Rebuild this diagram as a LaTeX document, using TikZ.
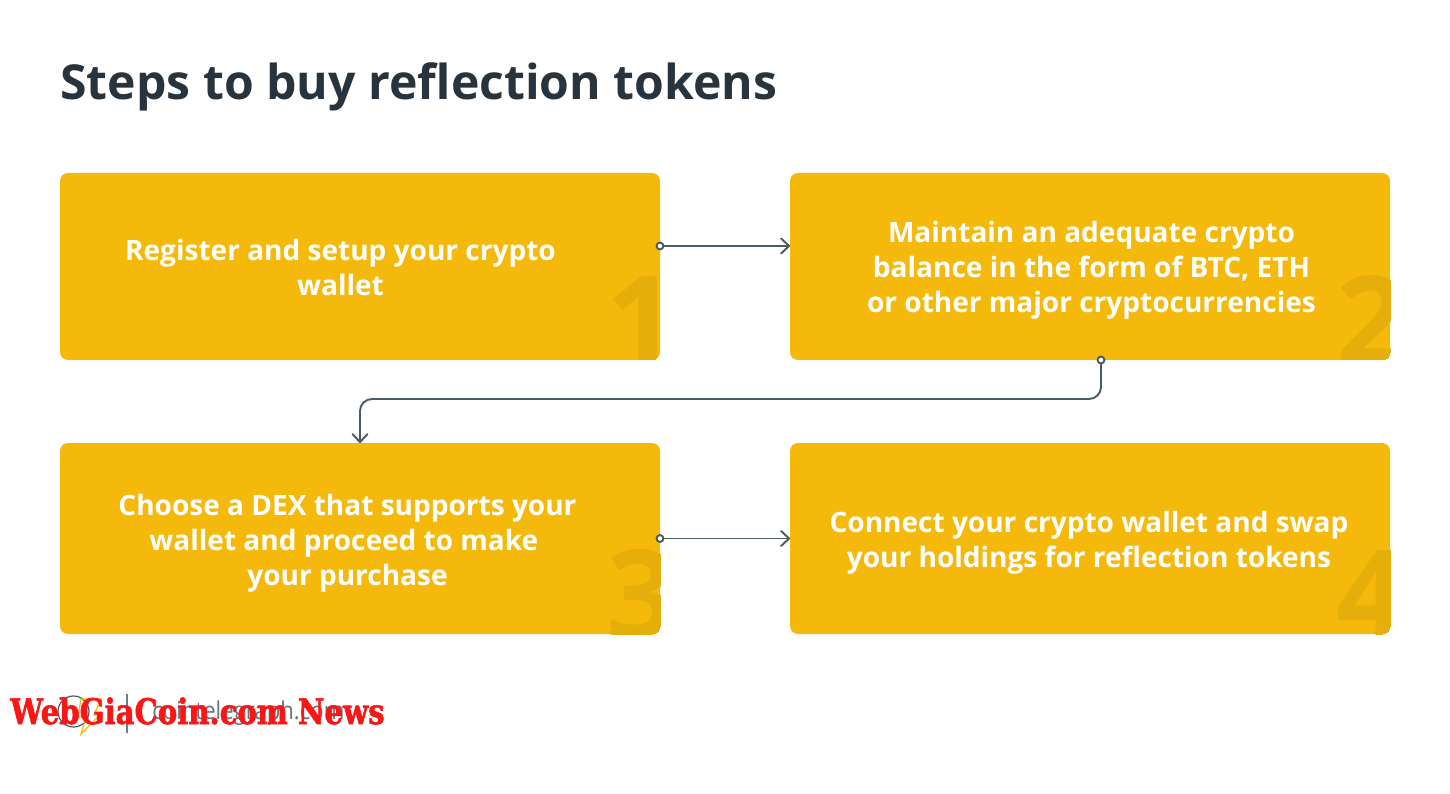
\documentclass[tikz,border=0pt]{standalone}
\usepackage{fontspec}
\setmainfont{Open Sans}
\newfontfamily\markfont[FakeStretch=0.83,FakeBold=1.6]{DejaVu Serif}
\newfontfamily\sitefont[FakeStretch=0.9]{Open Sans}
\usetikzlibrary{arrows.meta}
\definecolor{boxyellow}{HTML}{F5B90B}
\definecolor{digityellow}{HTML}{E5AE0A}
\definecolor{slateline}{HTML}{4A5B68}
\definecolor{titleink}{HTML}{28343D}
\definecolor{stampred}{HTML}{FB1515}
\tikzset{
  stepbox/.style={rectangle,rounded corners=0.16cm,fill=boxyellow,minimum width=12cm,inner sep=0pt,outer sep=0pt},
  digit/.style={inner sep=0pt,anchor=base west,xshift=-1.08cm,yshift=-0.09cm,text=digityellow,font=\fontsize{70}{70}\selectfont\bfseries},
  steptext/.style={align=center,text=white,font=\fontsize{15.95}{19.9}\selectfont\bfseries},
  startdot/.style={{Circle[open,fill=white,length=5pt,width=5pt]}->,slateline,shorten <=-2.5pt},
}
\begin{document}
\begin{tikzpicture}
    \useasboundingbox (0,0) rectangle (29,-15.88);

    \node[anchor=west,inner sep=0pt,text=titleink,font=\fontsize{27.4}{34}\selectfont\bfseries] (title) at (1.2,-1.74) {Steps to buy reflection tokens};

    \begin{scope}[every node/.style={stepbox}]
      \node[minimum height=3.74cm] (s1) at (7.2,-5.33) {};
      \node[minimum height=3.74cm] (s2) at (21.8,-5.33) {};
      \node[minimum height=3.82cm] (s3) at (7.2,-10.77) {};
      \node[minimum height=3.82cm] (s4) at (21.8,-10.77) {};
    \end{scope}

    % big numbers, cut off by the box they sit in
    \foreach \n in {1,2,3,4} {
      \begin{scope}
        \clip[rounded corners=0.16cm] (s\n.south west) rectangle (s\n.north east);
        \node[digit] (d\n) at (s\n.south east) {\n};
      \end{scope}
    }

    \node[steptext] (t1) at (6.81,-5.35) {Register and setup your crypto\\wallet};
    \node[steptext] (t2) at (21.83,-5.41) {Maintain an adequate crypto\\balance in the form of BTC, ETH\\or other major cryptocurrencies};
    \node[steptext] (t3) at (6.95,-10.86) {Choose a DEX that supports your\\wallet and proceed to make~\mbox{}\\your purchase};
    \node[steptext] (t4) at (21.78,-10.85) {Connect your crypto wallet and swap\\your holdings for reflection tokens};

    \coordinate (s2out) at (22.02,-7.2);
    \coordinate (elbow) at (22.02,-7.98);

    \begin{scope}[line width=1.1pt,
        >={Straight Barb[length=4.5pt,width=8.5pt,line width=1.1pt,round]}]
      \draw[startdot] (s1.east |- 0,-4.92) -- (s2.west |- 0,-4.92);
      \draw[startdot] (s3.east |- 0,-10.77) -- (s4.west |- 0,-10.77);
      \draw[startdot,rounded corners=0.24cm] (s2out) -- (elbow) -- (elbow -| s3.north) -- (s3.north);
    \end{scope}

    % logo row
    \node[circle,draw=slateline,line width=0.7pt,minimum size=0.62cm,inner sep=0pt] (logo) at (1.47,-14.23) {};
    \draw[draw=boxyellow,line width=0.7pt] (1.62,-13.98) -- (2.02,-13.98) -- (1.88,-14.3) -- (2.0,-14.3) -- (1.62,-14.68) -- (1.72,-14.34) -- (1.56,-14.34) -- cycle;
    \node[fill=slateline!80,minimum width=0.04cm,minimum height=0.78cm,inner sep=0pt] (rule) at (2.54,-14.27) {};
    \node[anchor=west,inner sep=0pt,text=slateline!85,font=\sitefont\fontsize{14}{16}\selectfont] (site) at (3.04,-14.27) {cointelegraph.com};
    \node[anchor=base west,inner sep=0pt,text=stampred,font=\markfont\fontsize{20}{22}\selectfont\bfseries] (stamp) at (0.2,-14.48) {WebGiaCoin.com News};
\end{tikzpicture}
\end{document}
